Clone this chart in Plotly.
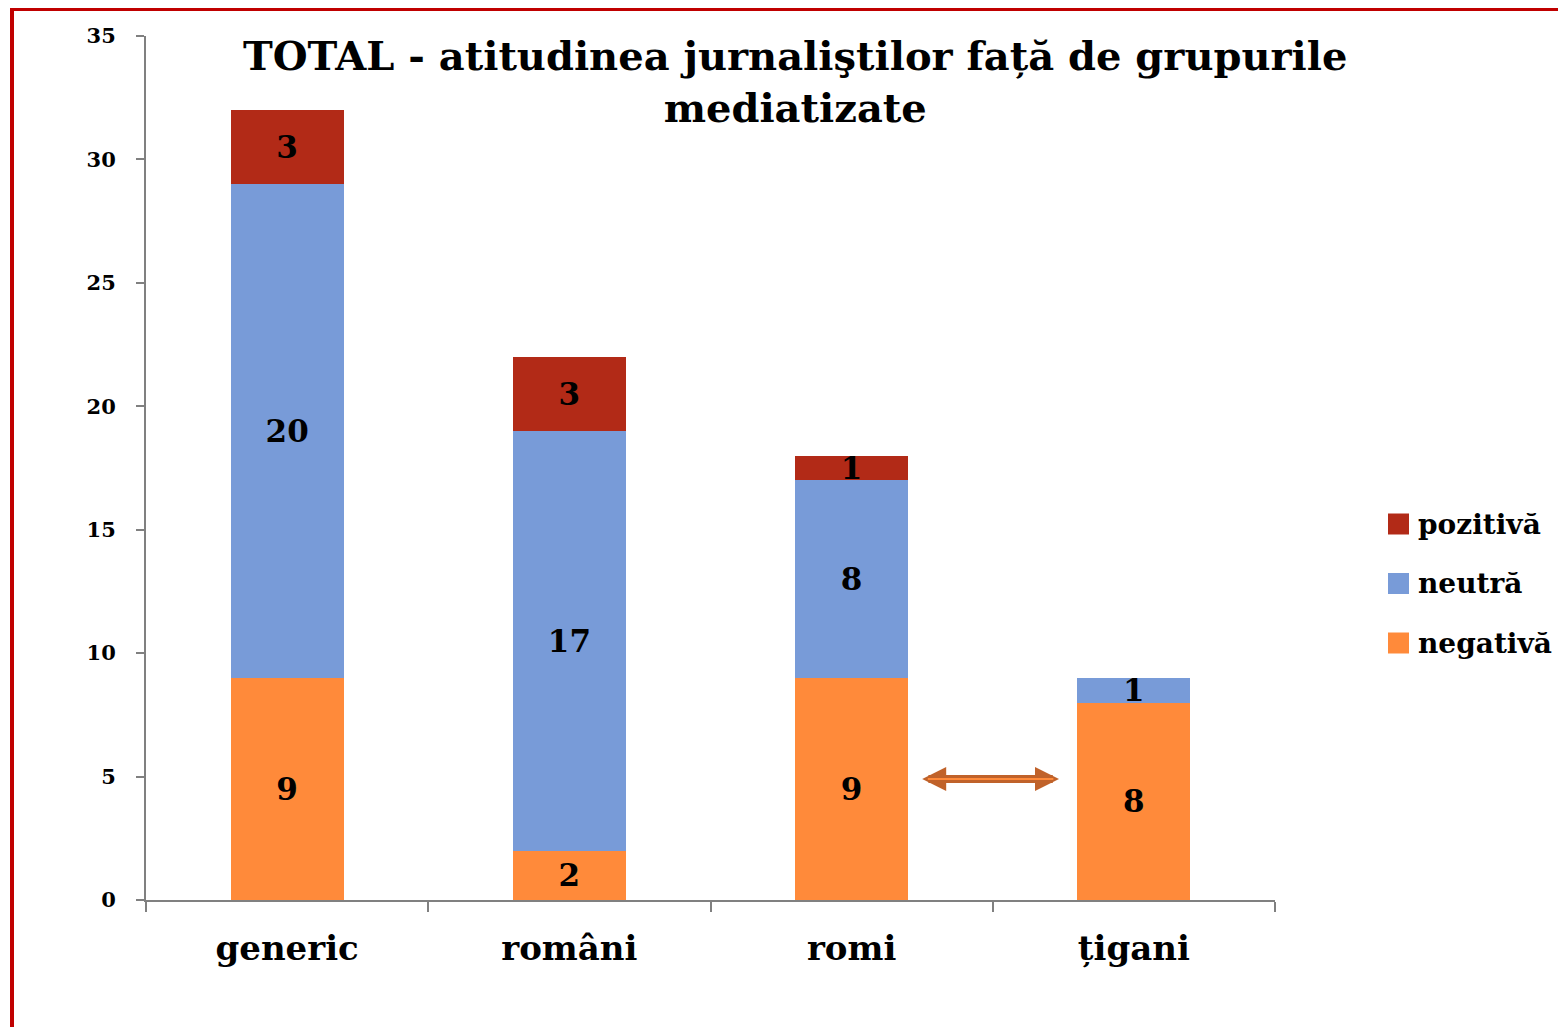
import plotly.graph_objects as go

categories = ["generic", "români", "romi", "\u021bigani"]
negativa = [9, 2, 9, 8]
neutra = [20, 17, 8, 1]
pozitiva = [3, 3, 1, 0]
series_names = ["negativă", "neutră", "pozitivă"]
series_colors = ["#FF8A3A", "#789BD8", "#B22A17"]

FONT = "DejaVu Serif"

# page has an 8px body margin, so screen pixel = figure pixel + 8
OFF = 8
W, H = 1566, 1027
L, T = 146 - OFF, 36 - OFF
R = W + OFF - 1275
B = H + OFF - 900
pw, ph = W - L - R, H - T - B


def px_x(x):
    return (x - OFF - L) / pw


def px_y(y):
    return (H - B - (y - OFF)) / ph


fig = go.Figure()

for vals, name, color in zip([negativa, neutra, pozitiva], series_names, series_colors):
    fig.add_trace(go.Bar(
        x=categories, y=vals, name=name, showlegend=False,
        marker=dict(color=color, line_width=0),
        text=[str(v) if v else "" for v in vals],
        textposition="inside", insidetextanchor="middle",
        constraintext="none", textangle=0,
        textfont=dict(family=FONT, size=31, color="black", weight="bold"),
    ))

# legend drawn by hand so the swatches match the original size
for i, (name, color) in enumerate(zip(series_names, series_colors)):
    yc = 643 - i * 59.5
    fig.add_shape(type="rect", xref="paper", yref="paper",
                  x0=px_x(1388), x1=px_x(1409), y0=px_y(yc + 10.5), y1=px_y(yc - 10.5),
                  fillcolor=color, line_width=0)
    fig.add_annotation(x=px_x(1416), y=px_y(yc), xref="paper", yref="paper",
                       text=name, showarrow=False, xanchor="left", yanchor="middle",
                       font=dict(family=FONT, size=28, color="black", weight="bold"))

# double arrow between romi and tigani
fig.add_annotation(x=2.25, y=4.9, ax=2.74, ay=4.9, xref="x", yref="y",
                   axref="x", ayref="y", text="", showarrow=True,
                   arrowhead=2, arrowside="end+start", arrowsize=0.6,
                   arrowwidth=8, arrowcolor="#C0622A")
fig.add_annotation(x=2.27, y=4.9, ax=2.72, ay=4.9, xref="x", yref="y",
                   axref="x", ayref="y", text="", showarrow=True,
                   arrowhead=0, arrowwidth=2, arrowcolor="#FF8A3A")

# title
fig.add_annotation(x=px_x(795), y=px_y(82), xref="paper", yref="paper",
                   text="TOTAL - atitudinea jurnali\u015ftilor fa\u021b\u0103 de grupurile<br>mediatizate",
                   showarrow=False, xanchor="center", yanchor="middle",
                   font=dict(family=FONT, size=40, color="black", weight="bold"))

# red frame
fig.add_shape(type="rect", xref="paper", yref="paper",
              x0=px_x(12), x1=px_x(1700), y0=px_y(1200), y1=px_y(9),
              line=dict(color="#C00000", width=4), layer="above")

fig.update_layout(
    width=W, height=H,
    margin=dict(l=L, r=R, t=T, b=B),
    barmode="stack", bargap=0.6,
    plot_bgcolor="white", paper_bgcolor="white",
    font=dict(family=FONT, color="black"),
    showlegend=False,
    xaxis=dict(showline=True, linecolor="#808080", linewidth=2,
               ticks="outside", tickson="boundaries", ticklen=10,
               tickcolor="#808080", tickwidth=2, showgrid=False,
               tickfont=dict(size=34, weight="bold"), ticklabelstandoff=17),
    yaxis=dict(range=[0, 35], dtick=5, showline=True, linecolor="#808080",
               linewidth=2, ticks="outside", ticklen=8, tickcolor="#808080",
               tickwidth=2, showgrid=False, zeroline=False,
               tickfont=dict(size=21, weight="bold"), ticklabelstandoff=16),
)

fig.write_html("out.html")
